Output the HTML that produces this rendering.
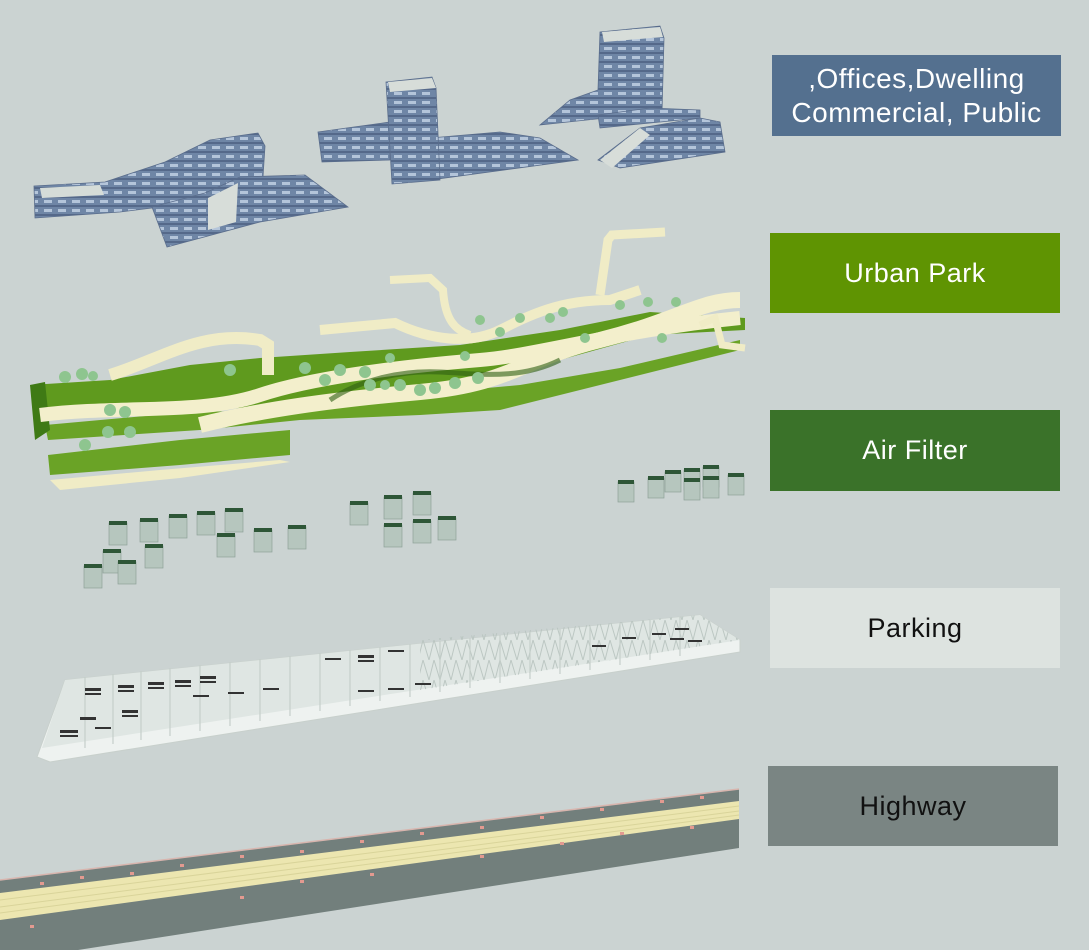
<!DOCTYPE html>
<html><head><meta charset="utf-8"><style>
html,body{margin:0;padding:0;background:#cbd3d2;}
body{width:1089px;height:950px;position:relative;overflow:hidden;font-family:"Liberation Sans",sans-serif;}
.lb{position:absolute;display:flex;align-items:center;justify-content:center;text-align:center;font-size:27px;letter-spacing:0.5px;line-height:33px;}
svg{position:absolute;left:0;top:0;}
</style></head><body>
<svg width="1089" height="950" viewBox="0 0 1089 950">
<defs>
<pattern id="win" width="14" height="9" patternUnits="userSpaceOnUse">
<rect width="14" height="9" fill="#6f86a6"/><rect x="2" y="2" width="8" height="3" fill="#b4c5da"/><rect y="7" width="14" height="2" fill="#55698a"/>
</pattern>
<pattern id="tru" width="11" height="20" patternUnits="userSpaceOnUse">
<path d="M0 20 L5 0 L11 20" stroke="#b8c4bf" stroke-width="1" fill="none"/>
</pattern>
</defs>
<!-- Highway -->
<polygon points="0,880 739,789 739,848 78,950 0,950" fill="#727f7c"/>
<polygon points="0,893 739,801 739,819 0,920" fill="#ece6b0"/>
<path d="M0,900 L739,806 M0,907 L739,811 M0,913 L739,815" stroke="#d9d49a" stroke-width="1"/>
<path d="M0,880 L739,789" stroke="#d8b5ae" stroke-width="1.5"/>
<g fill="#e39a90">
<rect x="40" y="882" width="4" height="3"/><rect x="80" y="876" width="4" height="3"/><rect x="130" y="872" width="4" height="3"/><rect x="180" y="864" width="4" height="3"/><rect x="240" y="855" width="4" height="3"/><rect x="300" y="850" width="4" height="3"/><rect x="360" y="840" width="4" height="3"/><rect x="420" y="832" width="4" height="3"/><rect x="480" y="826" width="4" height="3"/><rect x="540" y="816" width="4" height="3"/><rect x="600" y="808" width="4" height="3"/><rect x="660" y="800" width="4" height="3"/><rect x="700" y="796" width="4" height="3"/>
<rect x="30" y="925" width="4" height="3"/><rect x="240" y="896" width="4" height="3"/><rect x="300" y="880" width="4" height="3"/><rect x="370" y="873" width="4" height="3"/><rect x="480" y="855" width="4" height="3"/><rect x="560" y="842" width="4" height="3"/><rect x="620" y="832" width="4" height="3"/><rect x="690" y="826" width="4" height="3"/>
</g>
<!-- Parking -->
<polygon points="37,757 65,680 700,615 740,640 740,652 50,762" fill="#eef2f0" stroke="#c8d0cc"/>
<polygon points="65,680 700,615 740,640 42,748" fill="#dfe6e3"/>
<polygon points="420,640 700,615 740,640 420,690" fill="url(#tru)" opacity="0.9"/>
<g stroke="#c5cfca" stroke-width="1.2">
<path d="M85,677 L85,748 M113,674 L113,744 M141,671 L141,740 M170,668 L170,736 M200,665 L200,731 M230,662 L230,726 M260,659 L260,721 M290,656 L290,716 M320,653 L320,711 M350,650 L350,706 M380,647 L380,701 M410,644 L410,697 M440,641 L440,692 M470,638 L470,688 M500,635 L500,683 M530,632 L530,679 M560,629 L560,674 M590,626 L590,670 M620,623 L620,665 M650,620 L650,660 M680,617 L680,656"/>
</g>
<g fill="#333">
<rect x="85" y="688" width="16" height="3"/><rect x="85" y="693" width="16" height="2"/><rect x="118" y="685" width="16" height="3"/><rect x="118" y="690" width="16" height="2"/><rect x="148" y="682" width="16" height="3"/><rect x="148" y="687" width="16" height="2"/><rect x="175" y="680" width="16" height="3"/><rect x="175" y="685" width="16" height="2"/><rect x="200" y="676" width="16" height="3"/><rect x="200" y="681" width="16" height="2"/>
<rect x="60" y="730" width="18" height="3"/><rect x="60" y="735" width="18" height="2"/><rect x="80" y="717" width="16" height="3"/><rect x="95" y="727" width="16" height="2"/><rect x="122" y="710" width="16" height="3"/><rect x="122" y="715" width="16" height="2"/><rect x="193" y="695" width="16" height="2"/><rect x="228" y="692" width="16" height="2"/><rect x="263" y="688" width="16" height="2"/><rect x="325" y="658" width="16" height="2"/><rect x="358" y="655" width="16" height="3"/><rect x="358" y="660" width="16" height="2"/><rect x="388" y="650" width="16" height="2"/><rect x="358" y="690" width="16" height="2"/><rect x="388" y="688" width="16" height="2"/><rect x="415" y="683" width="16" height="2"/>
<rect x="592" y="645" width="14" height="2"/><rect x="622" y="637" width="14" height="2"/><rect x="652" y="633" width="14" height="2"/><rect x="675" y="628" width="14" height="2"/><rect x="670" y="638" width="14" height="2"/><rect x="688" y="640" width="14" height="2"/>
</g>
<!-- Air filters -->
<g fill="#b6c6be" stroke="#8ea198" stroke-width="0.7">
<rect x="109" y="523" width="18" height="22"/><rect x="140" y="520" width="18" height="22"/><rect x="169" y="516" width="18" height="22"/><rect x="197" y="513" width="18" height="22"/><rect x="225" y="510" width="18" height="22"/><rect x="217" y="535" width="18" height="22"/><rect x="254" y="530" width="18" height="22"/><rect x="288" y="527" width="18" height="22"/>
<rect x="103" y="551" width="18" height="22"/><rect x="145" y="546" width="18" height="22"/><rect x="84" y="566" width="18" height="22"/><rect x="118" y="562" width="18" height="22"/>
<rect x="350" y="503" width="18" height="22"/><rect x="384" y="497" width="18" height="22"/><rect x="413" y="493" width="18" height="22"/><rect x="384" y="525" width="18" height="22"/><rect x="413" y="521" width="18" height="22"/><rect x="438" y="518" width="18" height="22"/>
<rect x="618" y="482" width="16" height="20"/><rect x="648" y="478" width="16" height="20"/><rect x="665" y="472" width="16" height="20"/><rect x="684" y="470" width="16" height="20"/><rect x="703" y="467" width="16" height="20"/><rect x="684" y="480" width="16" height="20"/><rect x="703" y="478" width="16" height="20"/><rect x="728" y="475" width="16" height="20"/>
</g>
<g fill="#2e5637">
<rect x="109" y="521" width="18" height="4"/><rect x="140" y="518" width="18" height="4"/><rect x="169" y="514" width="18" height="4"/><rect x="197" y="511" width="18" height="4"/><rect x="225" y="508" width="18" height="4"/><rect x="217" y="533" width="18" height="4"/><rect x="254" y="528" width="18" height="4"/><rect x="288" y="525" width="18" height="4"/>
<rect x="103" y="549" width="18" height="4"/><rect x="145" y="544" width="18" height="4"/><rect x="84" y="564" width="18" height="4"/><rect x="118" y="560" width="18" height="4"/>
<rect x="350" y="501" width="18" height="4"/><rect x="384" y="495" width="18" height="4"/><rect x="413" y="491" width="18" height="4"/><rect x="384" y="523" width="18" height="4"/><rect x="413" y="519" width="18" height="4"/><rect x="438" y="516" width="18" height="4"/>
<rect x="618" y="480" width="16" height="4"/><rect x="648" y="476" width="16" height="4"/><rect x="665" y="470" width="16" height="4"/><rect x="684" y="468" width="16" height="4"/><rect x="703" y="465" width="16" height="4"/><rect x="684" y="478" width="16" height="4"/><rect x="703" y="476" width="16" height="4"/><rect x="728" y="473" width="16" height="4"/>
</g>
<!-- Urban park -->
<g>
<polygon points="30,385 110,380 190,365 260,358 350,352 460,345 560,330 650,312 745,318 745,330 650,335 560,360 470,380 380,400 300,405 200,410 40,420" fill="#5f9a1e"/>
<polygon points="45,425 190,412 300,410 410,395 520,385 620,368 740,340 740,350 600,385 500,410 420,415 300,420 200,430 48,440" fill="#6aa326"/>
<polygon points="48,455 180,440 290,430 290,455 180,465 50,475" fill="#6aa326"/>
<polygon points="50,480 160,470 280,460 290,462 180,478 60,490" fill="#f0ecc6"/>
<polygon points="30,385 45,382 50,430 35,440" fill="#3f7a15"/>
<path d="M40,415 C120,405 200,415 260,395 S 420,365 480,360 S 620,330 740,318" stroke="#f3efcc" stroke-width="14" fill="none"/>
<path d="M110,375 C160,360 200,330 260,340 L268,345 L268,375" stroke="#f0ecc6" stroke-width="12" fill="none"/>
<path d="M200,425 C260,410 330,400 420,392 S 520,360 600,340 S 700,300 740,300" stroke="#f3efcc" stroke-width="16" fill="none"/>
<path d="M320,330 L395,323 C430,340 470,345 500,330 S 560,300 610,300 L640,290" stroke="#f0ecc6" stroke-width="10" fill="none"/>
<path d="M390,280 L430,278 L443,290 C445,320 455,330 470,335" stroke="#f0ecc6" stroke-width="8" fill="none"/>
<path d="M600,295 L608,240 L612,235 L665,232" stroke="#f0ecc6" stroke-width="9" fill="none"/>
<path d="M700,325 L715,318 L722,345 L745,348" stroke="#f0ecc6" stroke-width="7" fill="none"/>
<path d="M330,400 C360,380 400,370 440,372 S 520,380 560,360" stroke="#2f5f12" stroke-width="5" fill="none" opacity="0.6"/>
<g fill="#8ec58f">
<circle cx="65" cy="377" r="6"/><circle cx="82" cy="374" r="6"/><circle cx="93" cy="376" r="5"/><circle cx="110" cy="410" r="6"/><circle cx="125" cy="412" r="6"/><circle cx="108" cy="432" r="6"/><circle cx="130" cy="432" r="6"/><circle cx="85" cy="445" r="6"/>
<circle cx="230" cy="370" r="6"/><circle cx="305" cy="368" r="6"/><circle cx="325" cy="380" r="6"/><circle cx="340" cy="370" r="6"/><circle cx="365" cy="372" r="6"/><circle cx="370" cy="385" r="6"/><circle cx="385" cy="385" r="5"/><circle cx="400" cy="385" r="6"/><circle cx="420" cy="390" r="6"/><circle cx="435" cy="388" r="6"/><circle cx="455" cy="383" r="6"/><circle cx="478" cy="378" r="6"/><circle cx="390" cy="358" r="5"/><circle cx="465" cy="356" r="5"/>
<circle cx="480" cy="320" r="5"/><circle cx="500" cy="332" r="5"/><circle cx="520" cy="318" r="5"/><circle cx="550" cy="318" r="5"/><circle cx="563" cy="312" r="5"/><circle cx="585" cy="338" r="5"/><circle cx="620" cy="305" r="5"/><circle cx="648" cy="302" r="5"/><circle cx="662" cy="338" r="5"/><circle cx="676" cy="302" r="5"/>
</g>
</g>
<!-- Buildings -->
<g stroke="#5a6d8c" stroke-width="0.8">
<polygon points="34,186 105,182 165,162 210,140 258,133 265,146 262,192 200,202 120,212 35,218" fill="url(#win)"/>
<polygon points="40,188 100,185 104,195 42,198" fill="#d5dcd8" stroke="none"/>
<polygon points="152,207 205,193 240,177 305,175 348,207 260,222 167,247" fill="url(#win)"/>
<polygon points="208,198 238,183 236,222 208,230" fill="#d7ddd9" stroke="none"/>
<polygon points="318,132 390,122 390,160 322,162" fill="url(#win)"/>
<polygon points="430,138 500,132 540,138 578,160 430,180" fill="url(#win)"/>
<polygon points="386,82 432,77 436,88 440,180 392,184" fill="url(#win)"/>
<polygon points="388,82 432,78 436,88 390,92" fill="#d7ddd9" stroke="none"/>
<polygon points="600,32 660,26 664,38 662,112 540,125 570,100 598,90" fill="url(#win)"/>
<polygon points="602,32 660,27 663,37 604,42" fill="#d7ddd9" stroke="none"/>
<polygon points="598,160 640,128 700,118 720,122 725,152 620,168" fill="url(#win)"/>
<polygon points="600,160 640,128 650,135 612,168" fill="#d7ddd9" stroke="none"/>
<polygon points="598,115 650,108 700,110 700,118 600,128" fill="url(#win)"/>
</g>
</svg>
<div class="lb" style="left:772px;top:55px;width:289px;height:81px;background:#54708f;color:#fff;font-size:28px;line-height:34px;">,Offices,Dwelling<br>Commercial, Public</div>
<div class="lb" style="left:770px;top:233px;width:290px;height:80px;background:#5f9402;color:#fff;">Urban Park</div>
<div class="lb" style="left:770px;top:410px;width:290px;height:81px;background:#3a7229;color:#fff;">Air Filter</div>
<div class="lb" style="left:770px;top:588px;width:290px;height:80px;background:#dde3e0;color:#111;">Parking</div>
<div class="lb" style="left:768px;top:766px;width:290px;height:80px;background:#7a8583;color:#111;">Highway</div>
</body></html>
